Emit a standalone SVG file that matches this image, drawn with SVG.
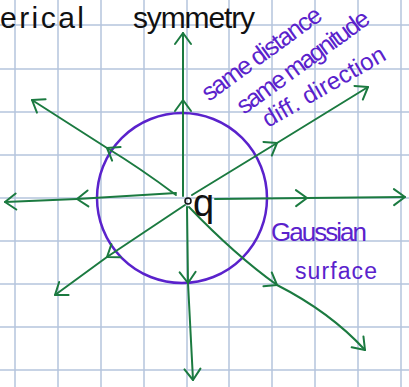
<svg xmlns="http://www.w3.org/2000/svg" width="409" height="387" viewBox="0 0 409 387">
<defs>
<marker id="chev" markerUnits="userSpaceOnUse" orient="auto" markerWidth="30" markerHeight="30" refX="0" refY="0" viewBox="-15 -15 30 30" overflow="visible">
<path d="M-11,-8 L0,0 L-11,8" fill="none" stroke="#1b7a40" stroke-width="2" stroke-linecap="round" stroke-linejoin="round"/>
</marker>
<style>
.grid line{stroke:#b5c5dd;stroke-width:1.5}
.fl{fill:none;stroke:#1b7a40;stroke-width:2;stroke-linecap:round;stroke-linejoin:round;marker-mid:url(#chev);marker-end:url(#chev)}
.pt{font-family:"Liberation Sans",Arial,sans-serif;fill:#5a22cc}
.bt{font-family:"Liberation Sans",Arial,sans-serif;fill:#111}
</style>
</defs>
<rect width="409" height="387" fill="#fff"/>
<g class="grid">
<line x1="15" y1="0" x2="15" y2="387"/><line x1="58" y1="0" x2="58" y2="387"/><line x1="101" y1="0" x2="101" y2="387"/><line x1="144" y1="0" x2="144" y2="387"/><line x1="187" y1="0" x2="187" y2="387"/><line x1="229" y1="0" x2="229" y2="387"/><line x1="272" y1="0" x2="272" y2="387"/><line x1="315" y1="0" x2="315" y2="387"/><line x1="358" y1="0" x2="358" y2="387"/><line x1="401" y1="0" x2="401" y2="387"/>
<line x1="0" y1="25" x2="409" y2="25"/><line x1="0" y1="69" x2="409" y2="69"/><line x1="0" y1="112" x2="409" y2="112"/><line x1="0" y1="155" x2="409" y2="155"/><line x1="0" y1="198" x2="409" y2="198"/><line x1="0" y1="241" x2="409" y2="241"/><line x1="0" y1="284" x2="409" y2="284"/><line x1="0" y1="327" x2="409" y2="327"/><line x1="0" y1="370" x2="409" y2="370"/>
</g>
<g id="title">
<text class="bt" x="0" y="28" font-size="30" textLength="84">erical</text>
<text class="bt" x="133" y="28" font-size="30" textLength="122">symmetry</text>
</g>
<g id="gaussian-surface">
<circle cx="182" cy="198" r="85" fill="none" stroke="#5a22cc" stroke-width="2.5"/>
<text class="pt" x="271" y="241" font-size="26" textLength="96">Gaussian</text>
<text class="pt" x="295" y="279" font-size="23" textLength="82">surface</text>
</g>
<g id="connectors">
<path class="fl" d="M183,196 L183,100 L183,33"/>
<path class="fl" d="M187,207 L188,283 L193,380"/>
<path class="fl" d="M215,199 L307,198 L405,197"/>
<path class="fl" d="M176,193 L77,199 L5,202"/>
<path class="fl" d="M192,195 L277,143 L368,87"/>
<path class="fl" d="M176,195 Q140,168 107,148 L32,100"/>
<path class="fl" d="M185,205 L107,257 L55,295"/>
<path class="fl" d="M189,207 Q235,255 277,285 Q330,312 365,350"/>
</g>
<g id="charge">
<circle cx="188" cy="201" r="3" fill="none" stroke="#111" stroke-width="1.5"/>
<text class="bt" x="193" y="216" font-size="38">q</text>
</g>
<g id="note">
<text class="pt" font-size="25" transform="translate(209,102) rotate(-36)" textLength="142">same distance</text>
<text class="pt" font-size="25" transform="translate(244,115) rotate(-36)" textLength="158">same magnitude</text>
<text class="pt" font-size="24" transform="translate(268,128) rotate(-30)" textLength="138">diff. direction</text>
</g>
</svg>
